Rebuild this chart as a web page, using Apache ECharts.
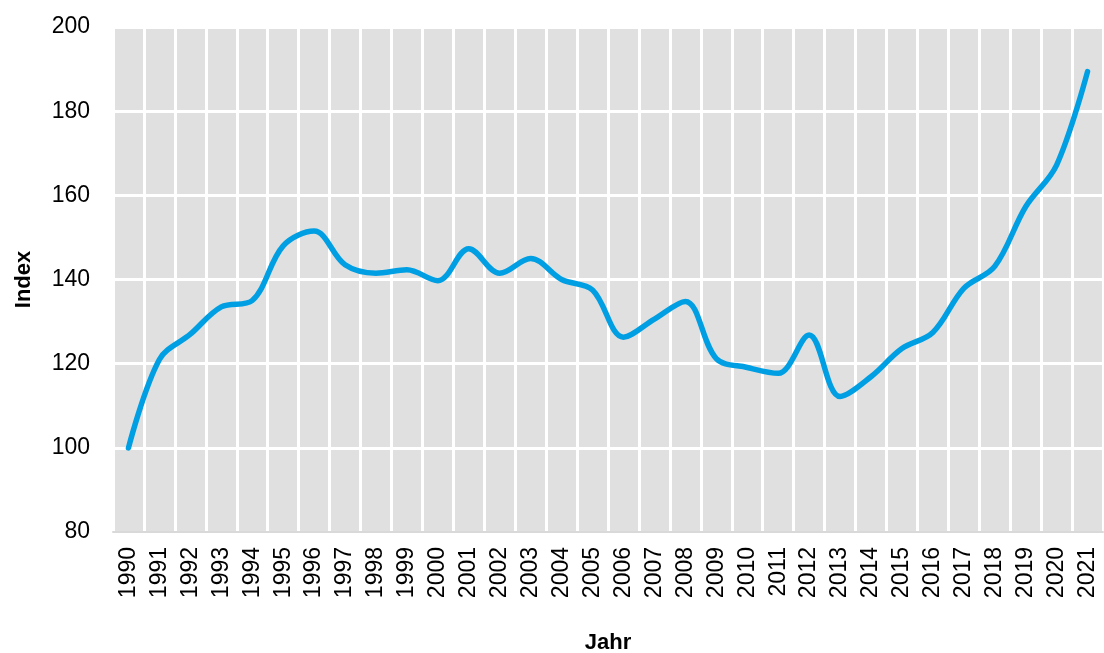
<!DOCTYPE html>
<html>
<head>
<meta charset="utf-8">
<script src="https://cdn.jsdelivr.net/npm/echarts@6/dist/echarts.min.js"></script>
<style>
  html, body { margin: 0; padding: 0; background: #fff; }
  #chart { width: 1104px; height: 653px; }
</style>
</head>
<body>
<div id="chart"></div>
<script>
// Jahre (x-Achse)
var years = ['1990', '1991', '1992', '1993', '1994', '1995', '1996', '1997', '1998', '1999',
  '2000', '2001', '2002', '2003', '2004', '2005', '2006', '2007', '2008', '2009',
  '2010', '2011', '2012', '2013', '2014', '2015', '2016', '2017', '2018', '2019',
  '2020', '2021'];

// Index-Werte
var indexValues = [100, 121, 127, 133.5, 135, 148, 151.5, 143.5, 141.5, 142.3,
  139.7, 147.3, 141.5, 145, 140, 137.5, 126.3, 130.6, 134.8, 121.2,
  119.1, 117.7, 126.8, 112.2, 116.9, 123.6, 127.4, 137.9, 143.1, 157.3,
  167.2, 189.4];

var yTicks = { min: 80, max: 200, interval: 20 };

var font = 'Liberation Sans, Arial, sans-serif';

var option = {
  backgroundColor: '#ffffff',
  animation: false,
  grid: {
    left: 113,
    right: 1,
    top: 27,
    bottom: 121,
    outerBoundsMode: 'none',
    containLabel: false,
    backgroundColor: '#e0e0e0',
    show: true,
    borderWidth: 0
  },
  xAxis: {
    type: 'category',
    data: years,
    boundaryGap: true,
    name: 'Jahr',
    nameLocation: 'middle',
    nameGap: 100,
    nameTextStyle: { color: '#000', fontSize: 22, fontWeight: 'bold', fontFamily: font },
    axisLine: { show: true, lineStyle: { color: '#d9d9d9', width: 2 } },
    axisTick: { show: false },
    axisLabel: {
      interval: 0,
      rotate: 90,
      margin: 15,
      color: '#000',
      fontSize: 23,
      fontFamily: font
    },
    splitLine: { show: true, interval: 0, lineStyle: { color: '#ffffff', width: 3 } }
  },
  yAxis: {
    type: 'value',
    min: yTicks.min,
    max: yTicks.max,
    interval: yTicks.interval,
    name: 'Index',
    nameLocation: 'middle',
    nameGap: 78,
    nameTextStyle: { color: '#000', fontSize: 22, fontWeight: 'bold', fontFamily: font },
    axisLine: { show: false },
    axisTick: { show: false },
    axisLabel: { margin: 23, color: '#000', fontSize: 23, fontFamily: font },
    splitLine: { show: true, lineStyle: { color: '#ffffff', width: 3 } }
  },
  series: [
    {
      name: 'Index',
      type: 'line',
      data: indexValues,
      smooth: 0.35,
      showSymbol: false,
      symbol: 'none',
      lineStyle: { color: '#009fe3', width: 5.5, cap: 'round' },
      itemStyle: { color: '#009fe3' }
    }
  ]
};

var chart = echarts.init(document.getElementById('chart'));
chart.setOption(option);
</script>
</body>
</html>
